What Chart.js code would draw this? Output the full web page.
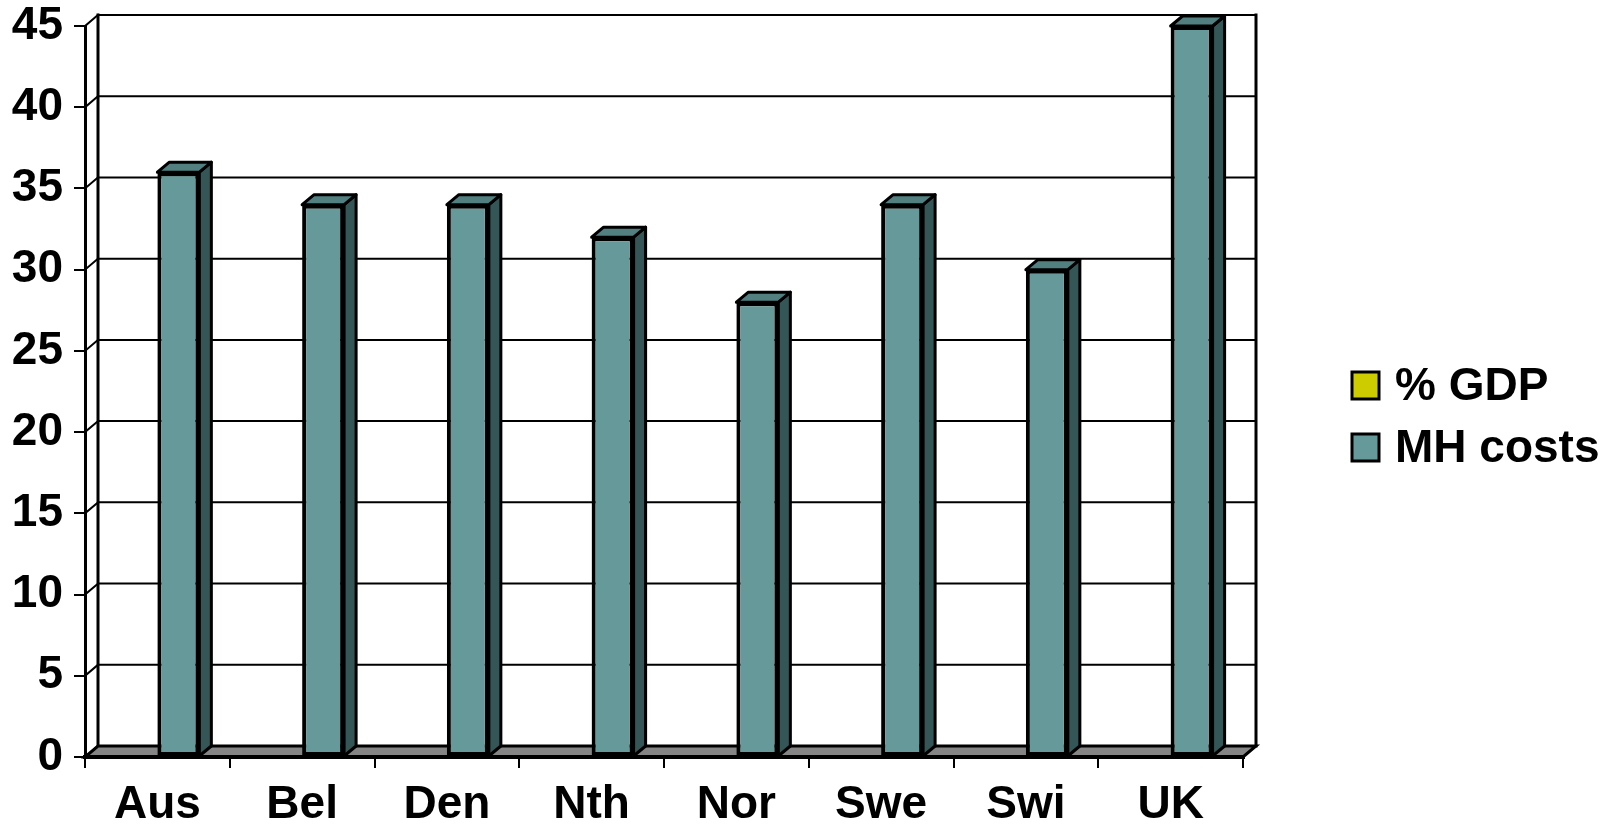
<!DOCTYPE html>
<html>
<head>
<meta charset="utf-8">
<script src="https://cdn.jsdelivr.net/npm/chart.js@4/dist/chart.umd.min.js"></script>
<style>
    html, body { margin: 0; padding: 0; background: #fff; }
    #wrap { width: 1620px; height: 826px; position: relative; }
</style>
</head>
<body>
<div id="wrap"><canvas id="chart_mh"></canvas></div>
<script>
const countries = ['Aus', 'Bel', 'Den', 'Nth', 'Nor', 'Swe', 'Swi', 'UK'];
const gdpShare = [0, 0, 0, 0, 0, 0, 0, 0];
const mhCosts = [36, 34, 34, 32, 28, 34, 30, 45];
const yTicks = [0, 5, 10, 15, 20, 25, 30, 35, 40, 45];

const FONT = "Arial, 'Liberation Sans', sans-serif";
// depth of the 3d box (walls) and of the columns
const WALL_DX = 13, WALL_DY = -11;
const BAR_DX = 12, BAR_DY = -10;

const wallPlugin = {
    id: 'wall3d',
    beforeDatasetsDraw(chart) {
        const ctx = chart.ctx;
        const a = chart.chartArea;
        const y = chart.scales.y;
        ctx.save();
        ctx.strokeStyle = '#000';
        ctx.lineCap = 'square';

        // back wall grid + side wall diagonals
        ctx.lineWidth = 2;
        yTicks.forEach(v => {
            const py = y.getPixelForValue(v);
            ctx.beginPath();
            ctx.moveTo(a.left + WALL_DX, py + WALL_DY);
            ctx.lineTo(a.right + WALL_DX, py + WALL_DY);
            ctx.moveTo(a.left, py);
            ctx.lineTo(a.left + WALL_DX, py + WALL_DY);
            ctx.stroke();
        });

        ctx.lineWidth = 3;
        ctx.beginPath();
        ctx.moveTo(a.left + WALL_DX, a.top + WALL_DY);
        ctx.lineTo(a.left + WALL_DX, a.bottom + WALL_DY);
        ctx.moveTo(a.right + WALL_DX, a.top + WALL_DY);
        ctx.lineTo(a.right + WALL_DX, a.bottom + WALL_DY);
        ctx.stroke();

        // floor
        ctx.beginPath();
        ctx.moveTo(a.left, a.bottom);
        ctx.lineTo(a.right, a.bottom);
        ctx.lineTo(a.right + WALL_DX, a.bottom + WALL_DY);
        ctx.lineTo(a.left + WALL_DX, a.bottom + WALL_DY);
        ctx.closePath();
        ctx.fillStyle = '#858585';
        ctx.fill();
        ctx.stroke();
        ctx.lineWidth = 4;
        ctx.beginPath();
        ctx.moveTo(a.left, a.bottom);
        ctx.lineTo(a.right, a.bottom);
        ctx.stroke();
        ctx.restore();
    },
    afterDatasetsDraw(chart) {
        const ctx = chart.ctx;
        const meta = chart.getDatasetMeta(1);
        ctx.save();
        ctx.strokeStyle = '#000';
        ctx.lineWidth = 3;
        ctx.lineJoin = 'round';
        meta.data.forEach(bar => {
            const p = bar.getProps(['x', 'y', 'base', 'width'], true);
            const l = p.x - p.width / 2, r = p.x + p.width / 2;
            // side face
            ctx.beginPath();
            ctx.moveTo(r, p.y);
            ctx.lineTo(r + BAR_DX, p.y + BAR_DY);
            ctx.lineTo(r + BAR_DX, p.base + BAR_DY);
            ctx.lineTo(r, p.base);
            ctx.closePath();
            ctx.fillStyle = '#345656';
            ctx.fill();
            ctx.stroke();
            // top face
            ctx.beginPath();
            ctx.moveTo(l, p.y);
            ctx.lineTo(l + BAR_DX, p.y + BAR_DY);
            ctx.lineTo(r + BAR_DX, p.y + BAR_DY);
            ctx.lineTo(r, p.y);
            ctx.closePath();
            ctx.fillStyle = '#528080';
            ctx.fill();
            ctx.stroke();
        });
        ctx.restore();
    },
    afterDraw(chart) {
        // legend, drawn by hand so the box/text gap matches
        const ctx = chart.ctx;
        const rows = [386, 448];
        ctx.save();
        ctx.font = 'bold 46px ' + FONT;
        ctx.textBaseline = 'middle';
        chart.data.datasets.forEach((ds, i) => {
            ctx.fillStyle = ds.backgroundColor;
            ctx.fillRect(1352, rows[i] - 14, 27, 27);
            ctx.strokeStyle = '#000';
            ctx.lineWidth = 3;
            ctx.strokeRect(1352, rows[i] - 14, 27, 27);
            ctx.fillStyle = '#000';
            ctx.fillText(ds.label, 1395, rows[i] + 1);
        });
        ctx.restore();
    }
};

const ctx = document.getElementById('chart_mh').getContext('2d');
new Chart(ctx, {
    type: 'bar',
    data: {
        labels: countries,
        datasets: [{
            label: '% GDP',
            data: gdpShare,
            backgroundColor: '#cccc00',
            borderWidth: 0,
            barPercentage: 1.0,
            categoryPercentage: 0.58
        }, {
            label: 'MH costs',
            data: mhCosts,
            backgroundColor: '#669999',
            borderColor: '#000',
            borderWidth: 4,
            borderSkipped: false,
            barPercentage: 1.0,
            categoryPercentage: 0.58
        }]
    },
    options: {
        responsive: true,
        maintainAspectRatio: false,
        animation: false,
        layout: {
            padding: { left: 0, top: 26, right: 377, bottom: 0 }
        },
        plugins: {
            legend: { display: false },
            tooltip: { enabled: false }
        },
        scales: {
            y: {
                min: 0,
                max: 45,
                afterFit: scale => { scale.width = 85; },
                ticks: {
                    stepSize: 5,
                    color: '#000',
                    padding: 11,
                    font: { size: 46, weight: 'bold', family: FONT, lineHeight: 0.5 }
                },
                grid: {
                    drawOnChartArea: false,
                    drawTicks: true,
                    tickLength: 11,
                    color: '#000',
                    lineWidth: 2
                },
                border: { display: true, color: '#000', width: 3 }
            },
            x: {
                afterFit: scale => { scale.height = 69; },
                ticks: {
                    color: '#000',
                    padding: 12,
                    maxRotation: 0,
                    font: { size: 46, weight: 'bold', family: FONT, lineHeight: 1.1 }
                },
                grid: {
                    drawOnChartArea: false,
                    drawTicks: true,
                    tickLength: 11,
                    color: '#000',
                    lineWidth: 2
                },
                border: { display: false }
            }
        }
    },
    plugins: [wallPlugin]
});
</script>
</body>
</html>
